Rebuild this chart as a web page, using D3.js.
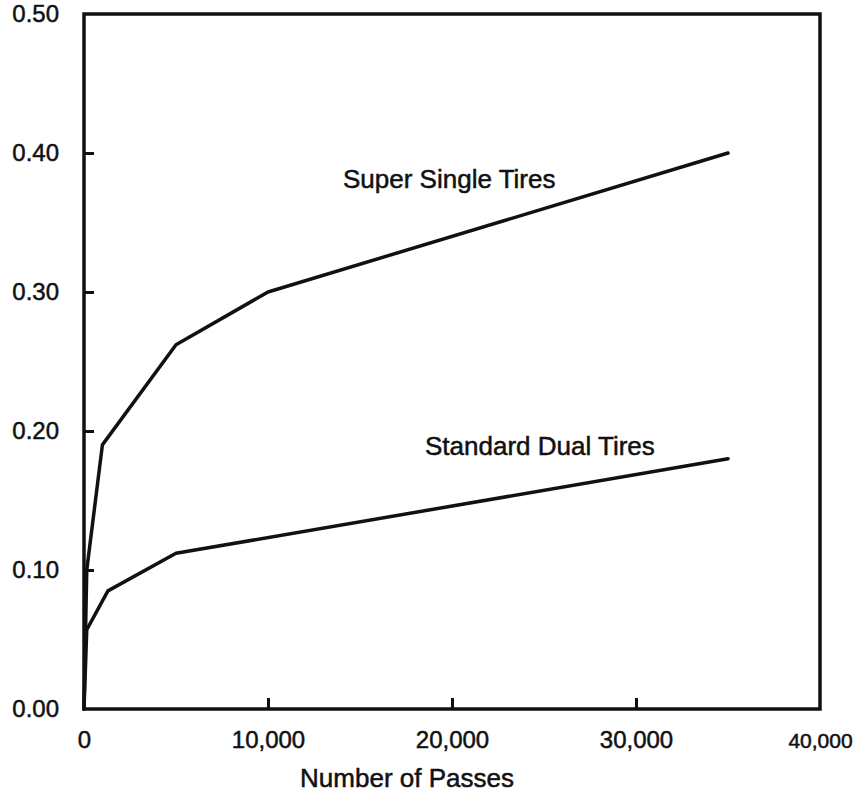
<!DOCTYPE html>
<html>
<head>
<meta charset="utf-8">
<script src="https://cdn.jsdelivr.net/npm/d3@7"></script>
<style>
  body { margin: 0; background: #fff; }
  svg { display: block; font-family: "Liberation Sans", Arial, Helvetica, sans-serif; }
  text { fill: #111; stroke: #111; stroke-width: 0.5px; }
  .axis text { font-size: 24px; }
  .axis line { stroke: #111; stroke-width: 3; }
  .series { fill: none; stroke: #111; stroke-width: 3.5; stroke-linejoin: round; stroke-linecap: round; }
</style>
</head>
<body>
<svg width="868" height="792"></svg>
<script>
const passesSuper = [0, 150, 1000, 5000, 10000, 35000];
const strainSuper = [0, 0.10, 0.19, 0.262, 0.30, 0.40];
const passesDual = [0, 150, 1300, 5000, 35000];
const strainDual = [0, 0.057, 0.085, 0.112, 0.18];
const xTicks = [0, 10000, 20000, 30000, 40000];
const yTicks = [0, 0.1, 0.2, 0.3, 0.4, 0.5];
const seriesNames = ["Super Single Tires", "Standard Dual Tires"];

const svg = d3.select("svg");
const plotLeft = 84, plotRight = 820, plotTop = 14, plotBottom = 709;

const x = d3.scaleLinear().domain([0, 40000]).range([plotLeft, plotRight]);
const y = d3.scaleLinear().domain([0, 0.5]).range([plotBottom, plotTop]);

// x axis, ticks point inward
const xAxis = svg.append("g")
    .attr("class", "axis")
    .attr("transform", `translate(0,${plotBottom})`)
    .call(d3.axisBottom(x).tickValues(xTicks)
        .tickSizeInner(-11).tickSizeOuter(0)
        .tickFormat(d3.format(",")));
xAxis.select(".domain").remove();
xAxis.selectAll("text").attr("y", 39).attr("dy", 0);
xAxis.selectAll(".tick").filter(d => d === 40000).select("text").style("font-size", "21px");
xAxis.selectAll(".tick").filter(d => d === 0 || d === 40000).select("line").remove();

// y axis
const yAxis = svg.append("g")
    .attr("class", "axis")
    .attr("transform", `translate(${plotLeft},0)`)
    .call(d3.axisLeft(y).tickValues(yTicks)
        .tickSizeInner(-10).tickSizeOuter(0).tickPadding(25)
        .tickFormat(d3.format(".2f")));
yAxis.select(".domain").remove();
yAxis.selectAll(".tick").filter(d => d === 0 || d === 0.5).select("line").remove();

// frame
svg.append("rect")
    .attr("x", plotLeft).attr("y", plotTop)
    .attr("width", plotRight - plotLeft).attr("height", plotBottom - plotTop)
    .attr("fill", "none").attr("stroke", "#111").attr("stroke-width", 3.5);

const line = d3.line().x(d => x(d[0])).y(d => y(d[1]));

svg.append("path")
    .attr("class", "series")
    .attr("d", line(d3.zip(passesSuper, strainSuper)));

svg.append("path")
    .attr("class", "series")
    .attr("d", line(d3.zip(passesDual, strainDual)));

svg.append("text")
    .attr("x", 343).attr("y", 188)
    .style("font-size", "26px")
    .text(seriesNames[0]);

svg.append("text")
    .attr("x", 425).attr("y", 455)
    .style("font-size", "26px")
    .text(seriesNames[1]);

svg.append("text")
    .attr("x", 407).attr("y", 787)
    .attr("text-anchor", "middle")
    .style("font-size", "26px")
    .text("Number of Passes");
</script>
</body>
</html>
